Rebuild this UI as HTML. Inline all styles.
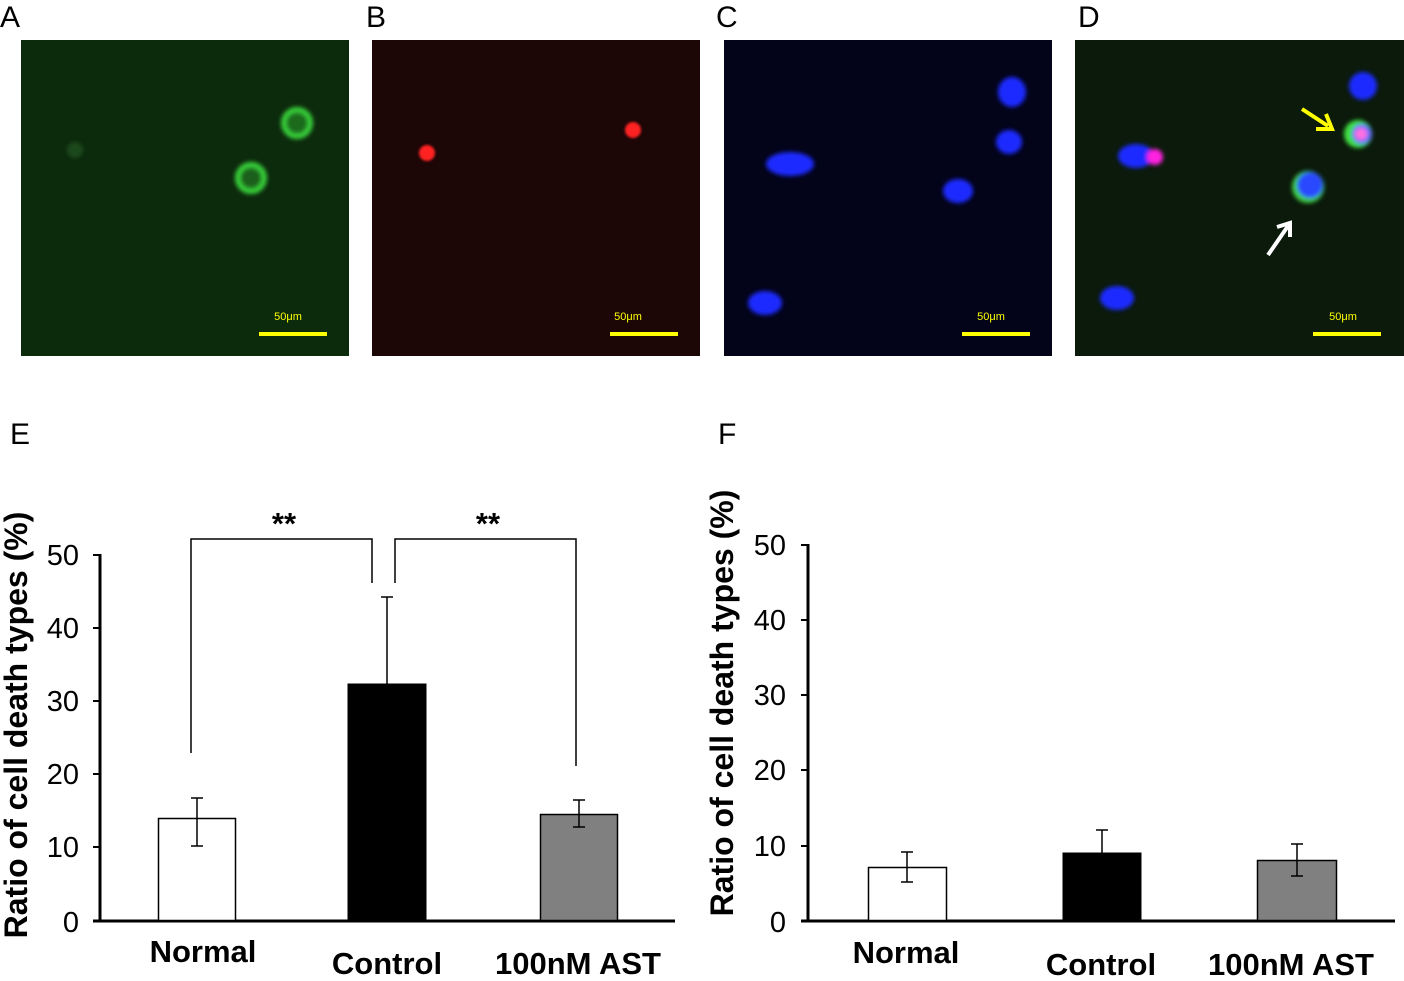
<!DOCTYPE html>
<html><head><style>
body{margin:0;width:1404px;height:976px;background:#fff;overflow:hidden;font-family:"Liberation Sans",Arial,sans-serif}
</style></head><body>
<svg width="1404" height="976" viewBox="0 0 1404 976" xmlns="http://www.w3.org/2000/svg" font-family="Liberation Sans, Arial, sans-serif">
<defs>
<filter id="b2"><feGaussianBlur stdDeviation="2"/></filter>
<filter id="b1"><feGaussianBlur stdDeviation="1.2"/></filter>
</defs>
<g font-size="30" fill="#000">
<text x="0" y="27">A</text><text x="366" y="27">B</text><text x="716" y="27">C</text><text x="1078" y="27">D</text>
<text x="10" y="444">E</text><text x="718" y="444">F</text>
</g>
<!-- A -->
<rect x="21" y="40" width="328" height="316" fill="#0c2a0c"/>
<g filter="url(#b2)">
<circle cx="297" cy="123" r="13" fill="none" stroke="#39d23a" stroke-width="6"/>
<circle cx="297" cy="123" r="9" fill="#1a6a1a"/>
<circle cx="251" cy="178" r="13" fill="none" stroke="#39d23a" stroke-width="6"/>
<circle cx="251" cy="178" r="9" fill="#1a5f1a"/>
<circle cx="75" cy="150" r="8" fill="#1d4a1d"/>
</g>
<!-- B -->
<rect x="372" y="40" width="328" height="316" fill="#1c0606"/>
<g filter="url(#b1)"><circle cx="427" cy="153" r="8" fill="#ff2020"/><circle cx="633" cy="130" r="8" fill="#ff2020"/></g>
<!-- C -->
<rect x="724" y="40" width="328" height="316" fill="#03031a"/>
<g filter="url(#b2)" fill="#1a2aff">
<ellipse cx="1012" cy="92" rx="14" ry="15"/><ellipse cx="1009" cy="142" rx="13" ry="12"/>
<ellipse cx="790" cy="164" rx="24" ry="12"/><ellipse cx="958" cy="191" rx="15" ry="12"/>
<ellipse cx="765" cy="303" rx="17" ry="12"/>
</g>
<!-- D -->
<rect x="1075" y="40" width="329" height="316" fill="#0b1a0b"/>
<g filter="url(#b2)">
<ellipse cx="1363" cy="86" rx="14" ry="14" fill="#1a2aff"/>
<circle cx="1358" cy="134" r="14" fill="#3fe03f"/>
<circle cx="1362" cy="134" r="10" fill="#6070ff"/>
<circle cx="1361" cy="134" r="6" fill="#ff70e0"/>
<ellipse cx="1136" cy="156" rx="18" ry="12" fill="#1a2aff"/>
<circle cx="1155" cy="157" r="8" fill="#ff20e0"/>
<circle cx="1308" cy="187" r="16" fill="#3fd03f"/>
<circle cx="1310" cy="185" r="13" fill="#2a4aff"/>
<ellipse cx="1117" cy="298" rx="17" ry="12" fill="#1a2aff"/>
</g>
<g stroke="#ffff00" stroke-width="4" fill="none"><line x1="1302" y1="109" x2="1328" y2="126"/><polyline points="1316,129 1332,129 1326,114"/></g>
<g stroke="#fff" stroke-width="4" fill="none"><line x1="1268" y1="255" x2="1288" y2="226"/><polyline points="1277,227 1290,223 1290,237"/></g>
<!-- scale bars -->
<g fill="#ffff00" font-size="11" text-anchor="middle">
<rect x="259" y="332" width="68" height="4"/><text x="288" y="320">50μm</text>
<rect x="610" y="332" width="68" height="4"/><text x="628" y="320">50μm</text>
<rect x="962" y="332" width="68" height="4"/><text x="991" y="320">50μm</text>
<rect x="1313" y="332" width="68" height="4"/><text x="1343" y="320">50μm</text>
</g>
<!-- Chart E -->
<g stroke="#000">
<line x1="100" y1="554" x2="100" y2="921" stroke-width="3"/>
<line x1="93" y1="921" x2="675" y2="921" stroke-width="3"/>
<g stroke-width="2"><line x1="93" y1="555" x2="100" y2="555"/><line x1="93" y1="628" x2="100" y2="628"/><line x1="93" y1="701" x2="100" y2="701"/><line x1="93" y1="774" x2="100" y2="774"/><line x1="93" y1="847" x2="100" y2="847"/></g>
<rect x="158.5" y="818.5" width="77" height="102" fill="#fff" stroke-width="1.5"/>
<rect x="348" y="684" width="78" height="237" fill="#000"/>
<rect x="540.5" y="814.5" width="77" height="106" fill="#808080" stroke-width="1.5"/>
<g stroke-width="1.5" fill="none">
<path d="M197 798V846M191 798H203M191 846H203"/>
<path d="M387 597V684M381 597H393"/>
<path d="M579 800V827M573 800H585M573 827H585"/>
<path d="M191 753V539H372V583"/>
<path d="M395 583V539H576V766"/>
</g>
</g>
<g font-size="29" fill="#000" text-anchor="end">
<text x="79" y="565">50</text><text x="79" y="638">40</text><text x="79" y="711">30</text><text x="79" y="784">20</text><text x="79" y="857">10</text><text x="79" y="932">0</text>
</g>
<g font-size="31" font-weight="bold" text-anchor="middle">
<text x="284" y="534">**</text><text x="488" y="534">**</text>
<text x="203" y="962">Normal</text><text x="387" y="974">Control</text><text x="578" y="974">100nM AST</text>
</g>
<text transform="translate(27,725) rotate(-90)" font-size="32" font-weight="bold" text-anchor="middle">Ratio of cell death types (%)</text>
<!-- Chart F -->
<g stroke="#000">
<line x1="808" y1="544" x2="808" y2="921" stroke-width="3"/>
<line x1="801" y1="921" x2="1395" y2="921" stroke-width="3"/>
<g stroke-width="2"><line x1="801" y1="545" x2="808" y2="545"/><line x1="801" y1="620" x2="808" y2="620"/><line x1="801" y1="695" x2="808" y2="695"/><line x1="801" y1="770" x2="808" y2="770"/><line x1="801" y1="846" x2="808" y2="846"/></g>
<rect x="868.5" y="867.5" width="78" height="53" fill="#fff" stroke-width="1.5"/>
<rect x="1063" y="853" width="78" height="68" fill="#000"/>
<rect x="1257.5" y="860.5" width="79" height="60" fill="#808080" stroke-width="1.5"/>
<g stroke-width="1.5" fill="none">
<path d="M907 852V882M901 852H913M901 882H913"/>
<path d="M1102 830V853M1096 830H1108"/>
<path d="M1297 844V876M1291 844H1303M1291 876H1303"/>
</g>
</g>
<g font-size="29" fill="#000" text-anchor="end">
<text x="786" y="555">50</text><text x="786" y="630">40</text><text x="786" y="705">30</text><text x="786" y="780">20</text><text x="786" y="856">10</text><text x="786" y="932">0</text>
</g>
<g font-size="31" font-weight="bold" text-anchor="middle">
<text x="906" y="963">Normal</text><text x="1101" y="975">Control</text><text x="1291" y="975">100nM AST</text>
</g>
<text transform="translate(733,703) rotate(-90)" font-size="32" font-weight="bold" text-anchor="middle">Ratio of cell death types (%)</text>
</svg>
</body></html>
